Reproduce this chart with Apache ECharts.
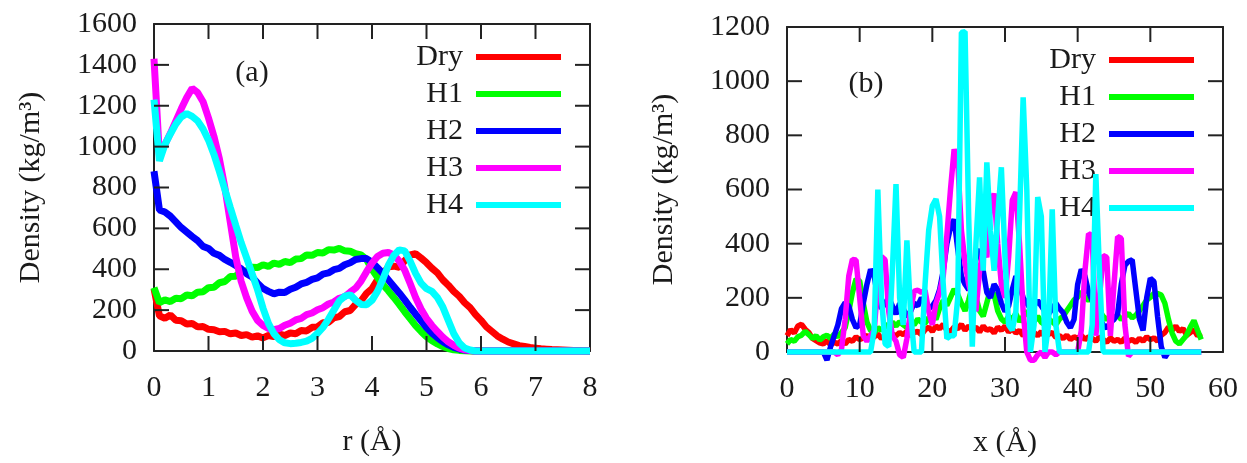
<!DOCTYPE html>
<html>
<head>
<meta charset="utf-8">
<title>Density profiles</title>
<script src="https://cdn.jsdelivr.net/npm/echarts@6/dist/echarts.min.js"></script>
<style>
  html, body { margin: 0; padding: 0; background: #fff; }
  #chart { width: 1247px; height: 463px; }
</style>
</head>
<body>
<div id="chart"></div>
<script>
// ---- series names and colours ----
const seriesNames = ['Dry', 'H1', 'H2', 'H3', 'H4'];
const seriesColors = ['#ff0000', '#00ff00', '#0000ff', '#ff00ff', '#00ffff'];

// ---- tick values (inner ticks; the ends sit on the frame corners) ----
const rTicks = [1, 2, 3, 4, 5, 6, 7];
const densTicksA = [200, 400, 600, 800, 1000, 1200, 1400];
const xTicks = [10, 20, 30, 40, 50];
const densTicksB = [200, 400, 600, 800, 1000];

// ---- panel (a): radial density, r = 0 .. 8 Å, sampled every 0.1 Å ----
const rStep = 0.1;
const dryA = [
  305, 172, 160, 176, 150, 148, 132, 135, 118, 120,
  106, 104, 94, 96, 84, 88, 76, 80, 68, 74,
  64, 76, 70, 82, 76, 88, 84, 100, 98, 116,
  118, 138, 140, 162, 168, 192, 198, 228, 246, 282,
  305, 348, 376, 412, 415, 410, 442, 470, 476, 455,
  432, 405, 382, 348, 322, 292, 268, 236, 212, 178,
  150, 118, 96, 74, 58, 44, 35, 26, 22, 17,
  14, 11, 9, 7, 6, 5, 4, 3, 2, 1,
  0
];
const h1A = [
  310, 236, 250, 242, 258, 256, 274, 270, 288, 290,
  310, 312, 334, 340, 364, 366, 390, 392, 410, 408,
  422, 414, 430, 424, 438, 432, 450, 452, 470, 468,
  482, 480, 496, 494, 502, 490, 488, 476, 470, 448,
  400, 360, 325, 295, 262, 228, 192, 158, 124, 96,
  70, 50, 35, 22, 12, 6, 3, 1, 0, 0,
  0, 0, 0, 0, 0, 0, 0, 0, 0, 0,
  0, 0, 0, 0, 0, 0, 0, 0, 0, 0,
  0
];
const h2A = [
  880, 690, 680, 660, 632, 604, 582, 560, 540, 512,
  502, 478, 468, 448, 434, 418, 402, 378, 362, 332,
  306, 292, 280, 288, 286, 302, 312, 328, 336, 350,
  358, 376, 382, 398, 404, 422, 432, 448, 452, 452,
  435, 408, 380, 348, 316, 284, 250, 214, 180, 148,
  115, 88, 65, 45, 30, 18, 10, 5, 2, 0,
  0, 0, 0, 0, 0, 0, 0, 0, 0, 0,
  0, 0, 0, 0, 0, 0, 0, 0, 0, 0,
  0
];
const h3A = [
  1430, 955, 1010, 1065, 1125, 1185, 1240, 1285, 1265, 1220,
  1140, 1050, 940, 800, 630, 460, 340, 260, 195, 150,
  125, 110, 104, 110, 126, 136, 152, 160, 178, 186,
  202, 212, 230, 240, 258, 266, 288, 308, 342, 388,
  430, 462, 478, 482, 470, 440, 396, 330, 262, 205,
  160, 125, 95, 68, 45, 28, 14, 6, 2, 0,
  0, 0, 0, 0, 0, 0, 0, 0, 0, 0,
  0, 0, 0, 0, 0, 0, 0, 0, 0, 0,
  0
];
const h4A = [
  1230, 930, 1010, 1062, 1110, 1145, 1162, 1148, 1126, 1086,
  1032, 962, 878, 790, 702, 615, 530, 455, 378, 300,
  210, 135, 85, 55, 40, 36, 38, 42, 48, 62,
  86, 115, 155, 200, 245, 268, 275, 248, 228, 226,
  248, 292, 352, 420, 468, 495, 490, 440, 380, 332,
  305, 292, 262, 215, 150, 85, 40, 15, 5, 0,
  0, 0, 0, 0, 0, 0, 0, 0, 0, 0,
  0, 0, 0, 0, 0, 0, 0, 0, 0, 0,
  0
];

// ---- panel (b): density along x, x = 0 .. 57 Å, sampled every 0.5 Å ----
const xStep = 0.5;
const dryB = [
  60, 82, 70, 96, 102, 84, 72, 50, 42, 34,
  30, 42, 26, 36, 30, 42, 30, 46, 40, 56,
  46, 52, 62, 46, 56, 66, 50, 62, 56, 66,
  60, 72, 64, 76, 60, 72, 76, 64, 82, 92,
  76, 96, 86, 102, 80, 76, 92, 86, 102, 80,
  96, 84, 92, 74, 96, 80, 86, 70, 92, 80,
  96, 74, 86, 70, 80, 60, 76, 56, 72, 60,
  76, 56, 66, 72, 54, 60, 50, 62, 46, 56,
  50, 62, 46, 56, 50, 40, 56, 46, 36, 52,
  40, 46, 36, 52, 40, 46, 36, 50, 40, 56,
  46, 52, 40, 62, 72, 92, 80, 96, 76, 86,
  62, 72, 82, 60, 70
];
const h1B = [
  30, 46, 40, 56, 62, 76, 64, 50, 60, 44,
  56, 62, 50, 66, 56, 72, 90, 150, 220, 270,
  262, 180, 110, 80, 70, 90, 80, 102, 90, 110,
  96, 112, 100, 90, 110, 100, 122, 110, 106, 126,
  140, 120, 162, 190, 172, 202, 232, 212, 180, 152,
  192, 242, 202, 152, 132, 182, 232, 212, 152, 122,
  110, 132, 120, 142, 112, 132, 152, 122, 112, 132,
  110, 100, 122, 112, 100, 122, 132, 152, 172, 192,
  202, 222, 202, 190, 202, 180, 152, 132, 120, 132,
  126, 136, 120, 132, 142, 126, 136, 152, 172, 192,
  202, 216, 216, 210, 180, 120, 70, 40, 30, 46,
  62, 92, 116, 80, 46
];
const h2B = [
  0, 0, 0, 0, 0, 0, 0, 0, 0, 0,
  0, -30, 20, 60, 100, 160, 182, 170, 120, 90,
  100, 180, 250, 305, 280, 200, 160, 180, 200, 170,
  140, 180, 160, 130, 150, 180, 170, 200, 180, 160,
  170, 190, 230, 300, 400, 460, 490, 380, 280, 250,
  230, 260, 350, 380, 300, 220, 200, 250, 230, 180,
  150, 170, 230, 280, 250, 200, 180, 160, 170, 190,
  170, 150, 140, 160, 180, 160, 145, 110, 90, 120,
  250, 305, 280, 220, 190, 170, 130, 100, 88, 110,
  120, 140, 250, 320, 335, 340, 230, 120, 80, 200,
  272, 260, 130, 20, -20, 0, 0, 0, 0, 0,
  0, 0, 0, 0, 0
];
const h3B = [
  0, 0, 0, 0, 0, 0, 0, 0, 0, 0,
  0, 0, 0, 0, -10, 10, 120, 280, 342, 340,
  200, 60, 40, 60, 80, 250, 352, 340, 150, 60,
  40, -10, -20, 50, 150, 225, 228, 220, 228, 150,
  100, 180, 220, 280, 430, 600, 749, 700, 450, 330,
  250, 200, 150, 300, 380, 350, 540, 585, 400, 250,
  200, 350, 560, 590, 400, 150, 0, -30, -30, -10,
  0, -20, 0, 0, -10, 0, 0, 0, 0, 0,
  0, 80, 300, 437, 430, 60, 200, 356, 350, 60,
  250, 426, 420, 100, -15, 0, 0, 0, 0, 0,
  0, 0, 0, 0, 0, 0, 0, 0, 0, 0,
  0, 0, 0, 0, 0
];
const h4B = [
  0, 0, 0, 0, 0, 0, 0, 0, 0, 0,
  0, 0, 0, 0, 0, 0, 0, 0, 0, 0,
  0, 0, 0, 0, 80, 600, 200, 30, 20, 300,
  620, 200, 100, 412, 150, 0, 0, 0, 250, 450,
  540, 565, 500, 250, 50, 60, 60, 200, 1180, 1183,
  500, 20, 400, 645, 300, 700, 450, 300, 500, 682,
  350, 100, 80, 150, 500, 940, 600, 0, 100, 572,
  500, 0, 100, 527, 100, 0, 0, 0, 0, 0,
  0, 0, 0, 0, 100, 657, 300, 0, 0, 0,
  0, 0, 0, 0, 0, 0, 0, 0, 0, 0,
  0, 0, 0, 0, 0, 0, 0, 0, 0, 0,
  0, 0, 0, 0, 0
];

const panelA = [dryA, h1A, h2A, h3A, h4A];
const panelB = [dryB, h1B, h2B, h3B, h4B];

// ---- styling ----
const FONT = "'Liberation Serif', 'DejaVu Serif', serif";
const TEXT = '#1a1a1a';
const FRAME = '#222222';
const TICK_PX = 15;

// plot frames (pixels)
const frameA = { left: 154, top: 24, width: 436, height: 327 };
const frameB = { left: 787, top: 27, width: 436, height: 327 };

function toPairs(values, step) {
  return values.map((v, i) => [+(i * step).toFixed(2), v]);
}

function axisBase(extra) {
  return Object.assign({
    type: 'value',
    axisLine: { show: true, onZero: false, lineStyle: { color: FRAME, width: 2 } },
    axisTick: { show: false },
    splitLine: { show: false },
    axisLabel: { show: false }
  }, extra);
}

const labelStyle = { show: true, fontFamily: FONT, fontSize: 30, color: TEXT, formatter: v => String(v) };
const nameStyle = { fontFamily: FONT, fontSize: 30, color: TEXT };

const xAxes = [
  axisBase({ gridIndex: 0, min: 0, max: 8, interval: 1, position: 'bottom',
    axisLabel: Object.assign({ margin: 22 }, labelStyle),
    name: 'r (Å)', nameLocation: 'middle', nameGap: 76, nameTextStyle: nameStyle }),
  axisBase({ gridIndex: 0, min: 0, max: 8, interval: 1, position: 'top' }),
  axisBase({ gridIndex: 1, min: 0, max: 60, interval: 10, position: 'bottom',
    axisLabel: Object.assign({ margin: 22 }, labelStyle),
    name: 'x (Å)', nameLocation: 'middle', nameGap: 76, nameTextStyle: nameStyle }),
  axisBase({ gridIndex: 1, min: 0, max: 60, interval: 10, position: 'top' })
];

const yAxes = [
  axisBase({ gridIndex: 0, min: 0, max: 1600, interval: 200, position: 'left',
    axisLabel: Object.assign({ margin: 17 }, labelStyle),
    name: 'Density (kg/m³)', nameLocation: 'middle', nameGap: 108, nameTextStyle: nameStyle }),
  axisBase({ gridIndex: 0, min: 0, max: 1600, interval: 200, position: 'right' }),
  axisBase({ gridIndex: 1, min: 0, max: 1200, interval: 200, position: 'left',
    axisLabel: Object.assign({ margin: 17 }, labelStyle),
    name: 'Density (kg/m³)', nameLocation: 'middle', nameGap: 108, nameTextStyle: nameStyle }),
  axisBase({ gridIndex: 1, min: 0, max: 1200, interval: 200, position: 'right' })
];

// Inward tick marks: thin rectangular markers anchored on each frame side.
function tickMarks(axisIdx, xt, yt, xMax, yMax) {
  const half = TICK_PX / 2;
  const mk = (data, size, offset) => ({
    type: 'scatter', xAxisIndex: axisIdx, yAxisIndex: axisIdx, data,
    symbol: 'rect', symbolSize: size, symbolOffset: offset,
    itemStyle: { color: FRAME, opacity: 1 }, clip: false, silent: true, z: 20,
    emphasis: { disabled: true }, tooltip: { show: false }
  });
  return [
    mk(xt.map(v => [v, 0]), [2, TICK_PX], [0, -half]),      // bottom
    mk(xt.map(v => [v, yMax]), [2, TICK_PX], [0, half]),    // top
    mk(yt.map(v => [0, v]), [TICK_PX, 2], [half, 0]),       // left
    mk(yt.map(v => [xMax, v]), [TICK_PX, 2], [-half, 0])    // right
  ];
}

const series = [];
seriesNames.forEach((name, k) => {
  series.push({
    name, type: 'line', xAxisIndex: 0, yAxisIndex: 0,
    data: toPairs(panelA[k], rStep), showSymbol: false, clip: false,
    color: seriesColors[k], lineStyle: { width: 7, color: seriesColors[k] },
    emphasis: { disabled: true }, z: 2 + k
  });
});
seriesNames.forEach((name, k) => {
  series.push({
    name, type: 'line', xAxisIndex: 2, yAxisIndex: 2,
    data: toPairs(panelB[k], xStep), showSymbol: false, clip: false,
    color: seriesColors[k], lineStyle: { width: 5.5, color: seriesColors[k] },
    emphasis: { disabled: true }, z: 2 + k
  });
});
series.push(...tickMarks(0, rTicks, densTicksA, 8, 1600));
series.push(...tickMarks(2, xTicks, densTicksB, 60, 1200));

function legendAt(right, top) {
  return {
    orient: 'vertical', align: 'right', right, top, padding: 0,
    itemWidth: 85, itemHeight: 6, itemGap: 7, icon: 'rect',
    selectedMode: false, data: seriesNames,
    textStyle: { fontFamily: FONT, fontSize: 30, lineHeight: 30, color: TEXT, padding: [0, 8, 0, 0] }
  };
}

const panelText = (text, x, y) => ({
  type: 'text', x, y, silent: true,
  style: { text, font: '30px ' + FONT, fill: TEXT, align: 'center', verticalAlign: 'middle' }
});

const option = {
  animation: false,
  backgroundColor: '#ffffff',
  grid: [frameA, frameB],
  xAxis: xAxes,
  yAxis: yAxes,
  legend: [legendAt(686, 42), legendAt(53, 45)],
  graphic: [panelText('(a)', 252, 73), panelText('(b)', 866, 84)],
  series
};

const chart = echarts.init(document.getElementById('chart'), null, { renderer: 'canvas' });
chart.setOption(option);
</script>
</body>
</html>
